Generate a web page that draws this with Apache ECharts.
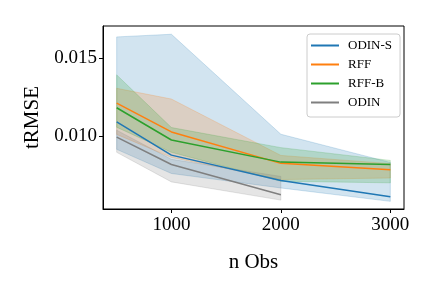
<!DOCTYPE html>
<html>
<head>
<meta charset="utf-8">
<script src="https://cdn.jsdelivr.net/npm/echarts@6/dist/echarts.min.js"></script>
<style>html,body{margin:0;padding:0;background:#fff;}#c{width:432px;height:288px;}</style>
</head>
<body>
<div id="c"></div>
<script>
const xs = [500, 1000, 2000, 3000];
const odinSMean = [0.01090, 0.00877, 0.00714, 0.00610];
const odinSLo = [0.00914, 0.00759, 0.00666, 0.00580];
const odinSHi = [0.01636, 0.01653, 0.01011, 0.00830];
const rffMean = [0.01211, 0.01026, 0.00824, 0.00783];
const rffLo = [0.01010, 0.00862, 0.00720, 0.00730];
const rffHi = [0.01306, 0.01237, 0.00875, 0.00822];
const rffBMean = [0.01181, 0.00974, 0.00832, 0.00817];
const rffBLo = [0.01056, 0.00895, 0.00709, 0.00699];
const rffBHi = [0.01392, 0.01054, 0.00925, 0.00843];
const odinXs = [500, 1000, 2000];
const odinMean = [0.00992, 0.00817, 0.00623];
const odinLo = [0.00895, 0.00705, 0.00588];
const odinHi = [0.01037, 0.00850, 0.00740];
const xTicks = [1000, 2000, 3000];
const yTicks = [0.010, 0.015];
const names = ['ODIN-S', 'RFF', 'RFF-B', 'ODIN'];

const font = 'Liberation Serif';
const colors = ['#1f77b4', '#ff7f0e', '#2ca02c', '#7f7f7f'];
const bandFill = ['rgba(31,119,180,0.2)', 'rgba(255,127,14,0.2)', 'rgba(44,160,44,0.2)', 'rgba(127,127,127,0.2)'];

function band(name, x, lo, hi, idx) {
  return {
    type: 'custom', name: name + ' band', silent: true, z: 1,
    data: [[x[0], lo[0]]],
    clip: true,
    renderItem: function (params, api) {
      const pts = [];
      for (let i = 0; i < x.length; i++) pts.push(api.coord([x[i], hi[i]]));
      for (let i = x.length - 1; i >= 0; i--) pts.push(api.coord([x[i], lo[i]]));
      return { type: 'polygon', shape: { points: pts }, style: { fill: bandFill[idx], stroke: bandFill[idx], lineWidth: 1 } };
    }
  };
}
function line(name, x, y, idx) {
  return {
    type: 'line', name: name, z: 3, symbol: 'none', color: colors[idx],
    lineStyle: { width: 1.5, color: colors[idx] },
    data: x.map((v, i) => [v, y[i]])
  };
}

const chart = echarts.init(document.getElementById('c'), null, { renderer: 'canvas' });
chart.setOption({
  animation: false,
  backgroundColor: '#fff',
  grid: { left: 103, top: 26, width: 301, height: 183, show: true, borderColor: '#000', borderWidth: 1, backgroundColor: 'transparent', containLabel: false, outerBoundsMode: 'none' },
  xAxis: {
    type: 'value', min: 375, max: 3125,
    name: 'n Obs', nameLocation: 'middle', nameGap: 43,
    nameTextStyle: { fontFamily: font, fontSize: 21, color: '#000' },
    axisLine: { show: true, lineStyle: { color: '#000', width: 1 } },
    axisTick: { show: true, length: 4, inside: false, customValues: xTicks, lineStyle: { color: '#000' } },
    axisLabel: { customValues: xTicks, fontFamily: font, fontSize: 19, color: '#000', margin: 7, formatter: v => String(v) },
    splitLine: { show: false }
  },
  yAxis: {
    type: 'value', min: 0.00531, max: 0.01706,
    name: 'tRMSE', nameLocation: 'middle', nameGap: 56, nameRotate: 90,
    nameTextStyle: { fontFamily: font, fontSize: 21, color: '#000' },
    axisLine: { show: true, lineStyle: { color: '#000', width: 1 } },
    axisTick: { show: true, length: 4, inside: false, customValues: yTicks, lineStyle: { color: '#000' } },
    axisLabel: { customValues: yTicks, fontFamily: font, fontSize: 19, color: '#000', margin: 6, formatter: v => v.toFixed(3) },
    splitLine: { show: false }
  },
  legend: {
    data: names, orient: 'vertical', left: 307, top: 34,
    icon: 'rect', itemWidth: 28, itemHeight: 2, itemGap: 4,
    padding: [4, 8, 7, 4],
    borderColor: '#cccccc', borderWidth: 1, borderRadius: 3, backgroundColor: 'rgba(255,255,255,0.8)',
    textStyle: { fontFamily: font, fontSize: 13, color: '#000', lineHeight: 15, padding: [0, 0, 0, 4] }
  },
  series: [
    band('ODIN-S', xs, odinSLo, odinSHi, 0),
    band('RFF', xs, rffLo, rffHi, 1),
    band('RFF-B', xs, rffBLo, rffBHi, 2),
    band('ODIN', odinXs, odinLo, odinHi, 3),
    line('ODIN-S', xs, odinSMean, 0),
    line('RFF', xs, rffMean, 1),
    line('RFF-B', xs, rffBMean, 2),
    line('ODIN', odinXs, odinMean, 3)
  ]
});
</script>
</body>
</html>
